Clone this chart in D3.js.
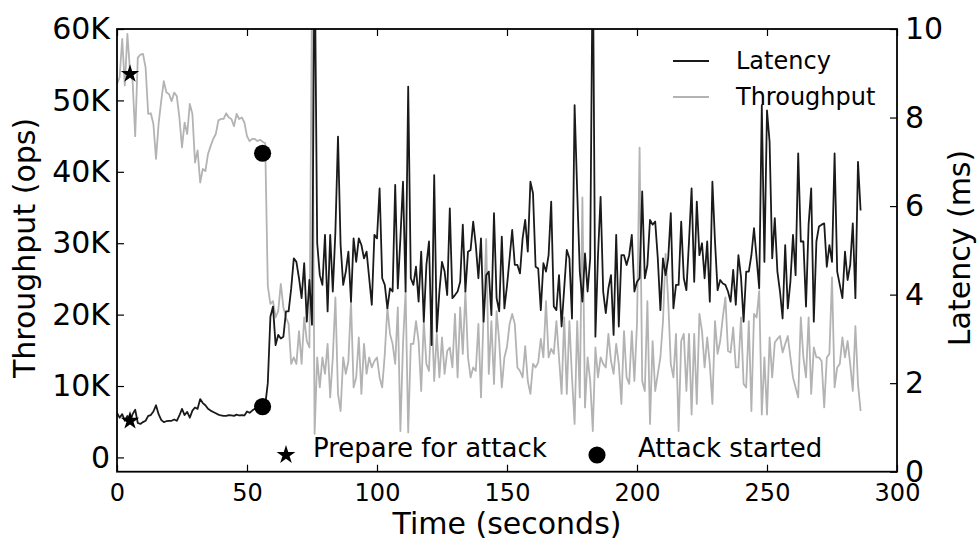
<!DOCTYPE html>
<html>
<head>
<meta charset="utf-8">
<style>
  body { margin: 0; background: #fff; }
  text { font-family: "DejaVu Sans", sans-serif; fill: #000; }
</style>
</head>
<body>
<svg id="chart" width="979" height="540"></svg>
<script src="https://cdn.jsdelivr.net/npm/d3@7"></script>
<script>
// throughput in K ops, one sample per second starting at t = 0
const throughputK = [
  52.3, 53.2, 58.6, 52.1, 59.3, 54.1, 52.7, 45.0, 56.0, 56.4,
  56.5, 54.6, 48.1, 48.2, 46.7, 41.8, 46.7, 49.9, 52.7, 51.1,
  50.9, 49.9, 51.1, 50.6, 47.6, 43.4, 46.9, 45.3, 49.5, 48.1,
  41.3, 43.0, 38.5, 40.4, 40.1, 42.5, 43.6, 44.6, 45.3, 47.2,
  47.4, 47.4, 48.2, 47.6, 47.4, 46.4, 48.1, 47.4, 47.6, 46.9,
  45.0, 44.3, 44.6, 44.6, 44.3, 44.5, 44.2, 44.0, 24.0, 21.5,
  21.9, 19.6, 20.5, 24.3, 21.0, 19.6, 18.7, 13.1, 14.0, 13.1,
  17.7, 13.1, 19.6, 16.3, 15.4, 65.0, 3.3, 14.0, 9.8, 14.0,
  11.7, 15.9, 8.4, 14.0, 22.4, 8.9, 6.5, 14.0, 11.7, 13.5,
  21.9, 9.8, 11.2, 16.8, 8.9, 15.9, 11.7, 14.0, 12.6, 13.5,
  14.0, 11.2, 9.8, 14.5, 21.0, 17.3, 15.9, 13.1, 21.0, 3.7,
  15.9, 23.3, 3.5, 15.9, 15.9, 19.1, 16.3, 9.3, 19.1, 13.1,
  12.1, 21.0, 10.7, 17.3, 11.2, 16.8, 11.7, 14.9, 15.4, 12.6,
  20.1, 11.2, 21.0, 14.5, 23.3, 14.0, 11.2, 12.6, 12.1, 18.7,
  8.4, 20.1, 30.6, 11.7, 19.1, 10.3, 20.5, 16.3, 9.8, 14.0,
  15.5, 18.7, 20.1, 18.7, 12.6, 12.1, 11.2, 15.6, 10.7, 8.9,
  13.1, 12.6, 13.3, 16.6, 14.0, 21.9, 14.0, 15.2, 14.5, 19.1,
  14.0, 8.9, 19.6, 8.9, 19.1, 11.2, 4.7, 19.1, 8.4, 36.4,
  7.0, 14.0, 10.7, 3.7, 15.4, 11.2, 14.0, 13.1, 12.6, 17.3,
  13.5, 11.7, 15.9, 13.1, 7.5, 17.7, 11.2, 10.3, 17.7, 10.7,
  18.7, 43.4, 10.7, 9.3, 21.9, 4.7, 16.3, 9.3, 11.7, 14.0,
  19.1, 28.5, 21.9, 13.1, 11.2, 17.3, 3.7, 16.3, 17.3, 9.3,
  17.3, 6.0, 17.3, 7.5, 20.1, 17.7, 12.6, 16.8, 13.1, 7.5,
  19.1, 14.5, 16.3, 19.6, 22.4, 14.9, 14.7, 18.2, 12.6, 12.6,
  19.6, 10.3, 9.8, 19.1, 6.5, 20.1, 19.6, 23.3, 6.0, 14.0,
  6.0, 16.8, 11.2, 16.1, 16.6, 17.0, 14.7, 15.9, 17.0, 14.0,
  11.2, 9.8, 8.4, 19.6, 14.0, 11.2, 19.6, 8.9, 15.4, 14.0,
  14.0, 13.5, 7.0, 14.0, 14.5, 25.2, 9.8, 12.6, 13.1, 16.8,
  14.0, 16.3, 13.1, 9.3, 18.4, 10.3, 6.5
]

// latency in ms, same time steps
const latencyMs = [
  1.33, 1.22, 1.30, 1.15, 1.26, 1.12, 1.30, 1.40, 1.10, 1.08,
  1.12, 1.15, 1.26, 1.28, 1.36, 1.50, 1.30, 1.17, 1.12, 1.14,
  1.15, 1.15, 1.18, 1.15, 1.27, 1.42, 1.28, 1.35, 1.22, 1.38,
  1.45, 1.42, 1.64, 1.55, 1.50, 1.42, 1.38, 1.35, 1.32, 1.29,
  1.27, 1.26, 1.26, 1.28, 1.27, 1.26, 1.29, 1.27, 1.28, 1.27,
  1.36, 1.33, 1.38, 1.42, 1.40, 1.46, 1.48, 1.50, 2.00, 3.50,
  3.73, 2.86, 3.09, 3.01, 3.05, 3.62, 3.62, 4.14, 4.82, 4.74,
  4.37, 3.92, 4.71, 3.39, 4.33, 3.32, 12.0, 5.16, 4.44, 4.22,
  5.35, 3.62, 5.35, 4.07, 5.42, 7.57, 5.12, 4.22, 4.52, 4.97,
  3.84, 5.27, 4.74, 5.27, 5.12, 4.82, 4.97, 4.37, 3.77, 5.35,
  5.27, 6.40, 4.37, 4.22, 3.69, 4.14, 4.07, 6.48, 4.14, 5.27,
  6.55, 4.07, 8.70, 4.37, 4.22, 4.63, 3.84, 4.97, 3.39, 4.67,
  5.20, 2.86, 6.70, 3.16, 4.07, 4.74, 4.52, 3.99, 5.95, 3.92,
  3.99, 4.07, 4.29, 5.58, 4.07, 4.97, 5.01, 5.65, 5.12, 4.37,
  5.27, 3.39, 4.44, 4.52, 3.54, 5.84, 3.92, 3.62, 5.31, 3.69,
  4.20, 4.82, 5.46, 4.67, 4.67, 4.48, 5.27, 5.69, 4.97, 6.55,
  6.29, 4.63, 4.59, 3.65, 4.71, 4.52, 4.89, 6.10, 3.73, 3.65,
  4.44, 3.28, 4.14, 5.01, 4.82, 3.46, 8.28, 6.33, 4.52, 3.84,
  4.93, 4.07, 4.82, 12.0, 3.05, 4.89, 6.21, 4.07, 3.58, 4.14,
  4.44, 3.09, 5.35, 3.28, 4.89, 4.89, 4.67, 4.89, 5.35, 4.07,
  4.29, 4.37, 6.33, 4.37, 4.67, 5.69, 5.58, 5.65, 4.82, 3.65,
  4.82, 4.44, 4.82, 5.84, 3.69, 4.22, 4.22, 5.65, 4.37, 4.10,
  5.20, 6.40, 4.29, 6.10, 4.89, 5.16, 4.37, 5.20, 3.84, 6.55,
  5.20, 4.10, 4.33, 4.25, 4.22, 4.07, 3.84, 4.56, 3.77, 4.89,
  4.40, 3.39, 4.52, 4.52, 4.89, 5.50, 4.82, 4.14, 8.28, 4.74,
  8.16, 7.45, 4.82, 5.73, 4.52, 4.07, 3.46, 5.12, 3.69, 4.29,
  5.35, 4.44, 7.19, 5.20, 5.20, 3.73, 5.58, 6.40, 3.39, 5.20,
  5.54, 5.58, 5.61, 4.63, 5.12, 4.74, 7.19, 4.52, 4.22, 3.92,
  4.97, 4.33, 4.67, 5.61, 3.92, 7.00, 5.90
]

// event markers: [time, throughput K, latency ms]
const prepareMark = [5, 53.7, 1.15]
const attackMark = [56, 42.6, 1.47]

const timeTicks = [0, 50, 100, 150, 200, 250, 300]
const throughputTicks = [0, 10000, 20000, 30000, 40000, 50000, 60000]
const latencyTicks = [0, 2, 4, 6, 8, 10]

let svg = d3.select("#chart")
let plotLeft = 117, plotRight = 897, plotTop = 29, plotBottom = 471.7

let x = d3.scaleLinear().domain([0, 300]).range([plotLeft, plotRight])
let yT = d3.scaleLinear().domain([-2000, 60000]).range([plotBottom, plotTop])
let yL = d3.scaleLinear().domain([0, 10]).range([plotBottom, plotTop])

svg.append("rect").attr("width", 979).attr("height", 540).attr("fill", "#fff")

svg.append("clipPath").attr("id", "plotclip")
  .append("rect")
  .attr("x", plotLeft).attr("y", plotTop)
  .attr("width", plotRight - plotLeft).attr("height", plotBottom - plotTop)

let plot = svg.append("g").attr("clip-path", "url(#plotclip)")

let tpLine = d3.line()
  .x((d, i) => x(i))
  .y(d => yT(d * 1000))
let latLine = d3.line()
  .x((d, i) => x(i))
  .y(d => yL(d))

plot.append("path")
  .attr("d", tpLine(throughputK))
  .attr("fill", "none")
  .attr("stroke", "#b3b3b3")
  .attr("stroke-width", 1.8)
  .attr("stroke-linejoin", "round")

plot.append("path")
  .attr("d", latLine(latencyMs))
  .attr("fill", "none")
  .attr("stroke", "#1a1a1a")
  .attr("stroke-width", 1.8)
  .attr("stroke-linejoin", "round")

let star = d3.symbol().type(d3.symbolStar).size(105)
let dot = d3.symbol().type(d3.symbolCircle).size(230)

// markers on both series
plot.append("path").attr("d", star())
  .attr("transform", `translate(${x(prepareMark[0])},${yT(prepareMark[1] * 1000)})`)
plot.append("path").attr("d", star())
  .attr("transform", `translate(${x(prepareMark[0])},${yL(prepareMark[2])})`)
plot.append("path").attr("d", dot())
  .attr("transform", `translate(${x(attackMark[0])},${yT(attackMark[1] * 1000)})`)
plot.append("path").attr("d", dot())
  .attr("transform", `translate(${x(attackMark[0])},${yL(attackMark[2])})`)

// axes with inward ticks
let fmtK = d => d === 0 ? "0" : (d / 1000) + "K"

let axB = svg.append("g").attr("transform", `translate(0,${plotBottom})`)
  .call(d3.axisBottom(x).tickValues(timeTicks).tickSizeInner(-7).tickSizeOuter(0).tickPadding(12))
let axT = svg.append("g").attr("transform", `translate(0,${plotTop})`)
  .call(d3.axisTop(x).tickValues(timeTicks).tickSizeInner(-7).tickSizeOuter(0).tickFormat(""))
let axL = svg.append("g").attr("transform", `translate(${plotLeft},0)`)
  .call(d3.axisLeft(yT).tickValues(throughputTicks).tickFormat(fmtK).tickSizeInner(-7).tickSizeOuter(0).tickPadding(7))
let axR = svg.append("g").attr("transform", `translate(${plotRight},0)`)
  .call(d3.axisRight(yL).tickValues(latencyTicks).tickSizeInner(-7).tickSizeOuter(0).tickPadding(8))

;[axB, axT, axL, axR].forEach(a => {
  a.select(".domain").remove()
  a.selectAll("line").attr("stroke", "#000").attr("stroke-width", 1.2)
  a.selectAll("text").attr("font-family", "DejaVu Sans").attr("fill", "#000")
})
axB.selectAll("text").attr("font-size", 24)
axL.selectAll("text").attr("font-size", 30)
axR.selectAll("text").attr("font-size", 30)

svg.append("rect")
  .attr("x", plotLeft).attr("y", plotTop)
  .attr("width", plotRight - plotLeft).attr("height", plotBottom - plotTop)
  .attr("fill", "none").attr("stroke", "#000").attr("stroke-width", 1.8)

// axis titles
svg.append("text")
  .attr("x", (plotLeft + plotRight) / 2).attr("y", 534)
  .attr("text-anchor", "middle").attr("font-size", 30)
  .text("Time (seconds)")
svg.append("text")
  .attr("transform", "translate(35,248) rotate(-90)")
  .attr("text-anchor", "middle").attr("font-size", 30)
  .text("Throughput (ops)")
svg.append("text")
  .attr("transform", "translate(970,248) rotate(-90)")
  .attr("text-anchor", "middle").attr("font-size", 30)
  .text("Latency (ms)")

// legend
let legend = [["Latency", "#1a1a1a", 61], ["Throughput", "#b3b3b3", 97]]
legend.forEach(([name, color, ly]) => {
  svg.append("line").attr("x1", 673).attr("x2", 709).attr("y1", ly).attr("y2", ly)
    .attr("stroke", color).attr("stroke-width", 1.8)
  svg.append("text").attr("x", 736).attr("y", ly).attr("dy", "0.35em")
    .attr("font-size", 24).text(name)
})

// event key at the bottom
svg.append("path").attr("d", d3.symbol().type(d3.symbolStar).size(110)())
  .attr("transform", "translate(286,455)")
svg.append("text").attr("x", 313).attr("y", 457).attr("font-size", 26).text("Prepare for attack")
svg.append("path").attr("d", dot())
  .attr("transform", "translate(597,455)")
svg.append("text").attr("x", 638).attr("y", 457).attr("font-size", 26).text("Attack started")
</script>
</body>
</html>
